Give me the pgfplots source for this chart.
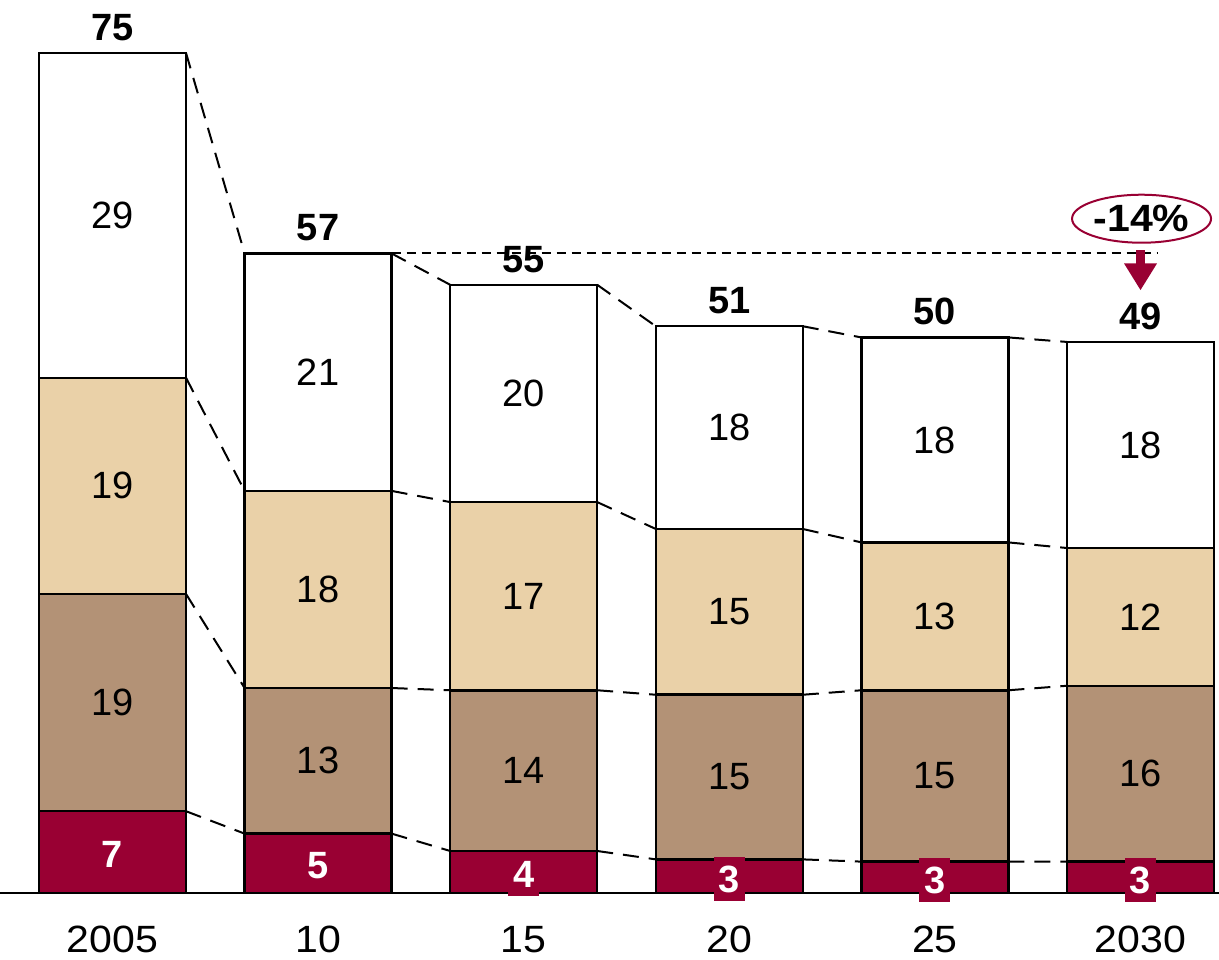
\documentclass[border=0pt]{standalone}
\usepackage{fontspec}
\setmainfont{Liberation Sans}
\newfontfamily\widef[FakeStretch=1.08]{Liberation Sans}
\usepackage{pgfplots}
\pgfplotsset{compat=1.18}
\usepackage{pgfplotstable}
\usetikzlibrary{arrows.meta,shapes.geometric}
\definecolor{cRed}{RGB}{153,0,51}
\definecolor{cBrown}{RGB}{179,146,118}
\definecolor{cTan}{RGB}{234,209,168}

\pgfplotstableread{
x red brown tan white total lr lb lt lw ltot
0 7.3 19.4 19.3 29.0 75.0 7 19 19 29 75
1 5.3 13.0 17.6 21.2 57.1 5 13 18 21 57
2 3.75 14.35 16.8 19.4 54.3 4 14 17 20 55
3 3.0 14.7 14.8 18.1 50.6 3 15 15 18 51
4 2.8 15.3 13.2 18.3 49.6 3 15 13 18 50
5 2.8 15.7 12.3 18.4 49.2 3 16 12 18 49
}\data

\pgfplotstableread{
x y1 y2 y3 y4
0.3575 7.3 26.7 46.0 75.0
0.6425 5.3 18.3 35.9 57.1
nan nan nan nan nan
1.3575 5.3 18.3 35.9 57.1
1.6425 3.75 18.1 34.9 54.3
nan nan nan nan nan
2.3575 3.75 18.1 34.9 54.3
2.6425 3.0 17.7 32.5 50.6
nan nan nan nan nan
3.3575 3.0 17.7 32.5 50.6
3.6425 2.8 18.1 31.3 49.6
nan nan nan nan nan
4.3575 2.8 18.1 31.3 49.6
4.6425 2.8 18.5 30.8 49.2
}\conn

\newcommand{\bigf}{\fontsize{19}{22.8}\selectfont}

\pgfplotsset{base/.style={
  width=609.5pt, height=480pt, scale only axis,
  xmin=-0.5472, xmax=5.3818, ymin=-5.982, ymax=79.73,
  clip=false,
}}

\begin{document}
\begin{tikzpicture}
\begin{axis}[base, ybar stacked, bar width=0.715,
  axis x line=middle, axis y line=none,
  axis line style={-, line width=1.25pt},
  hide obscured x ticks=false,
  xtick={0,1,2,3,4,5}, xticklabels={2005,10,15,20,25,2030},
  ytick=\empty,
  major tick length=0pt,
  xticklabel style={font=\widef\bigf, inner sep=0pt, yshift=-16.5pt},
]
\addplot[fill=cRed, draw=black, line width=1.25pt] table[x=x,y=red]{\data};
\addplot[fill=cBrown, draw=black, line width=1.25pt] table[x=x,y=brown]{\data};
\addplot[fill=cTan, draw=black, line width=1.25pt] table[x=x,y=tan]{\data};
\addplot[fill=white, draw=black, line width=1.25pt] table[x=x,y=white]{\data};
\end{axis}

\begin{axis}[base, hide axis, unbounded coords=jump]
% connectors
\addplot[black, line width=1pt, dash pattern=on 8pt off 5pt] table[x=x,y=y1]{\conn};
\addplot[black, line width=1pt, dash pattern=on 8pt off 5pt] table[x=x,y=y2]{\conn};
\addplot[black, line width=1pt, dash pattern=on 8pt off 5pt] table[x=x,y=y3]{\conn};
\addplot[black, line width=1pt, dash pattern=on 8pt off 5pt] table[x=x,y=y4]{\conn};
% reference line at 57
\addplot[black, line width=1pt, dash pattern=on 4.5pt off 3pt] coordinates {(1.3575,57.1) (5.085,57.1)};
% arrow
\addplot[cRed, line width=4.5pt, -{Triangle[length=13.5pt,width=15.5pt]}] coordinates {(5.0,57.4) (5.0,53.8)};
% labels
\addplot[draw=none, nodes near coords, point meta=explicit symbolic,
  nodes near coords align=center,
  every node near coord/.append style={font=\bigf\bfseries, text=white, fill=cRed, inner xsep=2.5pt, inner ysep=4.2pt}]
  table[x=x, y expr=\thisrow{red}/2-0.25, meta=lr]{\data};
\addplot[draw=none, nodes near coords, point meta=explicit symbolic,
  nodes near coords align=center,
  every node near coord/.append style={font=\bigf, text=black}]
  table[x=x, y expr=\thisrow{red}+\thisrow{brown}/2, meta=lb]{\data};
\addplot[draw=none, nodes near coords, point meta=explicit symbolic,
  nodes near coords align=center,
  every node near coord/.append style={font=\bigf, text=black}]
  table[x=x, y expr=\thisrow{red}+\thisrow{brown}+\thisrow{tan}/2, meta=lt]{\data};
\addplot[draw=none, nodes near coords, point meta=explicit symbolic,
  nodes near coords align=center,
  every node near coord/.append style={font=\bigf, text=black}]
  table[x=x, y expr=\thisrow{total}-\thisrow{white}/2, meta=lw]{\data};
\addplot[draw=none, nodes near coords, point meta=explicit symbolic,
  nodes near coords align=south,
  every node near coord/.append style={font=\bigf\bfseries, text=black, inner sep=6pt}]
  table[x=x, y=total, meta=ltot]{\data};
\node[draw=cRed, line width=1pt, ellipse, minimum width=69.5pt, minimum height=24pt, inner sep=0pt, font=\widef\bigf\bfseries] at (axis cs:5.005,60.2) {-14\%};
\end{axis}
\pgfresetboundingbox
\path[use as bounding box] (current axis.south west) rectangle (current axis.north east);
\end{tikzpicture}
\end{document}
